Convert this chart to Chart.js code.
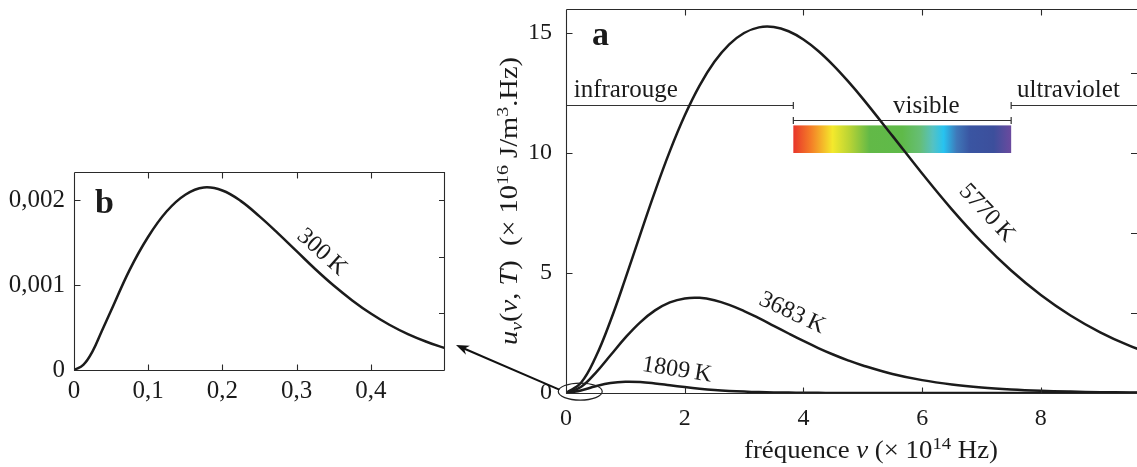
<!DOCTYPE html>
<html>
<head>
<meta charset="utf-8">
<script src="https://cdn.jsdelivr.net/npm/chart.js@4"></script>
<style>
  html, body { margin: 0; padding: 0; background: #ffffff; }
  #wrap { position: relative; width: 1137px; height: 467px; overflow: hidden; background: #fff; }
  #cb { position: absolute; left: 0; top: 0; }
  #ca { position: absolute; left: 452px; top: 0; }
</style>
</head>
<body>
<div id="wrap">
  <canvas id="cb" width="452" height="467"></canvas>
  <canvas id="ca" width="685" height="467"></canvas>
</div>
<script>
// ---------------- data ----------------
// panel a : frequency (x 10^14 Hz)
const nuA = [0, 0.25, 0.5, 0.75, 1, 1.25, 1.5, 1.75, 2, 2.25, 2.5, 2.75, 3, 3.25, 3.5, 3.75,
             4, 4.25, 4.5, 4.75, 5, 5.5, 6, 6.5, 7, 7.5, 8, 8.5, 9, 9.5, 10];
// energy density u (x 10^-16 J/m3.Hz)
const u5770 = [0, 0.418, 1.498, 3.011, 4.764, 6.603, 8.404, 10.078, 11.559, 12.806, 13.798, 14.527,
               15.001, 15.235, 15.250, 15.073, 14.731, 14.252, 13.665, 12.995, 12.266, 10.713, 9.145,
               7.653, 6.296, 5.105, 4.085, 3.231, 2.530, 1.963, 1.510];
const u3683 = [0, 0.251, 0.841, 1.573, 2.306, 2.946, 3.442, 3.773, 3.941, 3.964, 3.865, 3.673,
               3.416, 3.118, 2.800, 2.479, 2.168, 1.874, 1.605, 1.361, 1.146, 0.794, 0.537,
               0.356, 0.232, 0.149, 0.094, 0.059, 0.036, 0.022, 0.014];
const u1809 = [0, 0.103, 0.279, 0.413, 0.468, 0.455, 0.397, 0.322, 0.247, 0.181, 0.127, 0.087,
               0.058, 0.038, 0.025, 0.016, 0.010, 0.006, 0.004, 0.002, 0.001, 0.0005, 0.0002,
               0.0001, 0, 0, 0, 0, 0, 0, 0];
// panel b : 300 K
const nuB = [0, 0.0125, 0.025, 0.0375, 0.05, 0.075, 0.1, 0.125, 0.15, 0.175, 0.2, 0.225, 0.25, 0.275, 0.3,
             0.325, 0.35, 0.375, 0.4, 0.425, 0.45, 0.475, 0.5];
const u300 = [0, 0.000060, 0.000220, 0.000460, 0.000700, 0.001180, 0.001570, 0.001870, 0.002065, 0.002150, 0.002115,
              0.001990, 0.001810, 0.001610, 0.001400, 0.001190, 0.000995, 0.000820, 0.000665,
              0.000533, 0.000423, 0.000333, 0.000258];

const seriesNamesA = ['5770\u2009K', '3683\u2009K', '1809\u2009K'];
const seriesNameB = '300\u2009K';

// ticks
const xTicksA = [0, 2, 4, 6, 8];
const xTickLabelsA = ['0', '2', '4', '6', '8'];
const yTicksA = [0, 5, 10, 15];
const yTickLabelsA = ['0', '5', '10', '15'];
const yTicksRightA = [3.333, 6.667, 10, 13.333];
const xTicksB = [0, 0.1, 0.2, 0.3, 0.4];
const xTickLabelsB = ['0', '0,1', '0,2', '0,3', '0,4'];
const yTicksB = [0, 0.001, 0.002];
const yTickLabelsB = ['0', '0,001', '0,002'];
const yTicksRightB = [0.000667, 0.001333, 0.002];

// spectrum bands (x 10^14 Hz)
const bandNames = ['infrarouge', 'visible', 'ultraviolet'];
const visibleRange = [3.83, 7.5];

// ---------------- helpers ----------------
const SERIF = "'Liberation Serif', 'Times New Roman', serif";
const INK = '#1b1b1b';
const FRAME = '#2a2a2a';
function fnt(size, style, weight) { return (style || 'normal') + ' ' + (weight || 'normal') + ' ' + size + 'px ' + SERIF; }

function drawRich(ctx, segs, x, y, size, align, targetW) {
  const parts = segs.map(s => {
    const sz = (s.sup || s.sub) ? size * 0.7 : size;
    const f = fnt(sz, s.it ? 'italic' : 'normal');
    ctx.font = f;
    return { t: s.t, f: f, w: ctx.measureText(s.t).width, dy: s.sup ? -size * 0.38 : (s.sub ? size * 0.2 : 0) };
  });
  const total = parts.reduce((a, p) => a + p.w, 0);
  const k = targetW ? targetW / total : 1;
  ctx.save();
  ctx.translate(x, y);
  ctx.scale(k, 1);
  let cx = align === 'center' ? -total / 2 : (align === 'right' ? -total : 0);
  ctx.textAlign = 'left';
  ctx.textBaseline = 'alphabetic';
  ctx.fillStyle = INK;
  parts.forEach(p => { ctx.font = p.f; ctx.fillText(p.t, cx, p.dy); cx += p.w; });
  ctx.restore();
}

function rotText(ctx, text, x, y, deg, size, style) {
  ctx.save();
  ctx.translate(x, y);
  ctx.rotate(deg * Math.PI / 180);
  ctx.font = fnt(size, style || 'normal');
  ctx.fillStyle = INK;
  ctx.textAlign = 'center';
  ctx.textBaseline = 'middle';
  ctx.fillText(text, 0, 0);
  ctx.restore();
}

function framePlugin(xt, yt, yr, rightBorder) {
  return {
    id: 'frameTicks',
    afterDraw(chart) {
      const ctx = chart.ctx, a = chart.chartArea, sx = chart.scales.x, sy = chart.scales.y;
      const L = 6;
      ctx.save();
      ctx.strokeStyle = FRAME;
      ctx.lineWidth = 1.1;
      const l = Math.round(a.left) + 0.5, r = Math.round(a.right) - 0.5;
      const t = Math.round(a.top) + 0.5, b = Math.round(a.bottom) + 0.5;
      ctx.beginPath();
      ctx.moveTo(l, t); ctx.lineTo(l, b); ctx.lineTo(rightBorder ? r : a.right, b);
      ctx.moveTo(l, t); ctx.lineTo(rightBorder ? r : a.right, t);
      if (rightBorder) { ctx.lineTo(r, b); }
      xt.forEach(v => {
        if (v === 0) return;
        const p = Math.round(sx.getPixelForValue(v)) + 0.5;
        ctx.moveTo(p, b); ctx.lineTo(p, b - L);
        ctx.moveTo(p, t); ctx.lineTo(p, t + L);
      });
      yt.forEach(v => {
        if (v === 0) return;
        const p = Math.round(sy.getPixelForValue(v)) + 0.5;
        ctx.moveTo(l, p); ctx.lineTo(l + L, p);
      });
      yr.forEach(v => {
        const p = Math.round(sy.getPixelForValue(v)) + 0.5;
        ctx.moveTo(a.right, p); ctx.lineTo(a.right - L, p);
      });
      ctx.stroke();
      ctx.restore();
    }
  };
}

function tickFont(sz) { return { family: SERIF, size: sz }; }
function zeroPad(s) { s.paddingLeft = 0; s.paddingRight = 0; s.paddingTop = 0; s.paddingBottom = 0; }

const lineStyle = {
  borderColor: INK, borderWidth: 2.5, pointRadius: 0, fill: false,
  tension: 0.4, cubicInterpolationMode: 'default'
};

// ---------------- panel b ----------------
const chartB = new Chart(document.getElementById('cb'), {
  type: 'line',
  data: { datasets: [Object.assign({ label: seriesNameB, data: nuB.map((x, i) => ({ x: x, y: u300[i] })) }, lineStyle)] },
  options: {
    responsive: false, animation: false, events: [],
    layout: { padding: { top: 172, right: 7, bottom: 0, left: 0 } },
    plugins: { legend: { display: false }, tooltip: { enabled: false } },
    scales: {
      x: {
        type: 'linear', min: 0, max: 0.5,
        grid: { display: false, drawTicks: false }, border: { display: false },
        ticks: { padding: 6, font: tickFont(25), color: INK, autoSkip: false, maxRotation: 0,
                 callback: (v, i) => xTickLabelsB[i] },
        afterBuildTicks: s => { s.ticks = xTicksB.map(v => ({ value: v })); },
        afterFit: s => { s.height = 97; zeroPad(s); }
      },
      y: {
        type: 'linear', min: 0, max: 0.002333,
        grid: { display: false, drawTicks: false }, border: { display: false },
        ticks: { padding: 9, font: tickFont(25), color: INK, autoSkip: false,
                 callback: (v, i) => yTickLabelsB[i] },
        afterBuildTicks: s => { s.ticks = yTicksB.map(v => ({ value: v })); },
        afterFit: s => { s.width = 74; zeroPad(s); }
      }
    }
  },
  plugins: [
    framePlugin(xTicksB, yTicksB, yTicksRightB, true),
    {
      id: 'labelsB',
      afterDatasetsDraw(chart) {
        const ctx = chart.ctx, sx = chart.scales.x, sy = chart.scales.y;
        rotText(ctx, seriesNameB, sx.getPixelForValue(0.334), sy.getPixelForValue(0.001388), 42, 24);
        ctx.save();
        ctx.font = fnt(34, 'normal', 'bold');
        ctx.fillStyle = INK; ctx.textAlign = 'left'; ctx.textBaseline = 'alphabetic';
        ctx.fillText('b', sx.getPixelForValue(0.0283), sy.getPixelForValue(0.001847));
        ctx.restore();
      }
    }
  ]
});

// ---------------- panel a ----------------
const CA_OFFSET = 452;
const chartA = new Chart(document.getElementById('ca'), {
  type: 'line',
  data: {
    datasets: [
      Object.assign({ label: seriesNamesA[0], data: nuA.map((x, i) => ({ x: x, y: u5770[i] })) }, lineStyle),
      Object.assign({ label: seriesNamesA[1], data: nuA.map((x, i) => ({ x: x, y: u3683[i] })) }, lineStyle),
      Object.assign({ label: seriesNamesA[2], data: nuA.map((x, i) => ({ x: x, y: u1809[i] })) }, lineStyle)
    ]
  },
  options: {
    responsive: false, animation: false, events: [],
    layout: { padding: { top: 9, right: 0, bottom: 0, left: 0 } },
    plugins: { legend: { display: false }, tooltip: { enabled: false } },
    scales: {
      x: {
        type: 'linear', min: 0, max: 9.62,
        grid: { display: false, drawTicks: false }, border: { display: false },
        ticks: { padding: 11, font: tickFont(24), color: INK, autoSkip: false, maxRotation: 0,
                 callback: (v, i) => xTickLabelsA[i] },
        afterBuildTicks: s => { s.ticks = xTicksA.map(v => ({ value: v })); },
        afterFit: s => { s.height = 74; zeroPad(s); }
      },
      y: {
        type: 'linear', min: 0, max: 16,
        grid: { display: false, drawTicks: false }, border: { display: false },
        ticks: { padding: 14, font: tickFont(24), color: INK, autoSkip: false,
                 callback: (v, i) => yTickLabelsA[i] },
        afterBuildTicks: s => { s.ticks = yTicksA.map(v => ({ value: v })); },
        afterFit: s => { s.width = 114; zeroPad(s); }
      }
    }
  },
  plugins: [
    {
      id: 'spectrum',
      beforeDatasetsDraw(chart) {
        const ctx = chart.ctx, a = chart.chartArea, sx = chart.scales.x, sy = chart.scales.y;
        const x0 = sx.getPixelForValue(visibleRange[0]), x1 = sx.getPixelForValue(visibleRange[1]);
        const yTop = sy.getPixelForValue(11.15), yBot = sy.getPixelForValue(10);
        const g = ctx.createLinearGradient(x0, 0, x1, 0);
        [[0, '#e8352b'], [0.08, '#f47d27'], [0.18, '#f4e92c'], [0.26, '#b7d335'], [0.35, '#62b947'],
         [0.5, '#5fba49'], [0.58, '#66be74'], [0.64, '#55c2c2'], [0.69, '#27c3f0'], [0.75, '#3f78b9'],
         [0.81, '#3a55a2'], [0.92, '#3c4f9c'], [1, '#6b4a9e']].forEach(s => g.addColorStop(s[0], s[1]));
        ctx.save();
        ctx.fillStyle = g;
        ctx.fillRect(x0, yTop, x1 - x0, yBot - yTop);
        // band lines
        ctx.strokeStyle = '#333';
        ctx.lineWidth = 1.2;
        const yIR = Math.round(sy.getPixelForValue(12)) + 0.5;
        const yV = Math.round(sy.getPixelForValue(11.38)) + 0.5;
        ctx.beginPath();
        ctx.moveTo(a.left, yIR); ctx.lineTo(x0, yIR);
        ctx.moveTo(x0, yIR - 3.5); ctx.lineTo(x0, yIR + 3.5);
        ctx.moveTo(x1, yIR); ctx.lineTo(a.right, yIR);
        ctx.moveTo(x1, yIR - 3.5); ctx.lineTo(x1, yIR + 3.5);
        ctx.moveTo(x0, yV); ctx.lineTo(x1, yV);
        ctx.moveTo(x0, yV - 3.5); ctx.lineTo(x0, yV + 3.5);
        ctx.moveTo(x1, yV - 3.5); ctx.lineTo(x1, yV + 3.5);
        ctx.stroke();
        // band names
        ctx.fillStyle = INK;
        ctx.font = fnt(25);
        ctx.textBaseline = 'alphabetic';
        ctx.textAlign = 'left';
        ctx.fillText(bandNames[0], sx.getPixelForValue(0.13), sy.getPixelForValue(12.33));
        ctx.fillText(bandNames[2], sx.getPixelForValue(7.6), sy.getPixelForValue(12.33));
        ctx.textAlign = 'center';
        ctx.fillText(bandNames[1], sx.getPixelForValue(6.07), sy.getPixelForValue(11.67));
        // panel letter
        ctx.font = fnt(34, 'normal', 'bold');
        ctx.textAlign = 'left';
        ctx.fillText('a', sx.getPixelForValue(0.44), sy.getPixelForValue(14.5));
        ctx.restore();
      },
      afterDatasetsDraw(chart) {
        const ctx = chart.ctx, a = chart.chartArea, sx = chart.scales.x, sy = chart.scales.y;
        // curve labels
        rotText(ctx, seriesNamesA[0], sx.getPixelForValue(7.09), sy.getPixelForValue(7.5), 47, 24);
        rotText(ctx, seriesNamesA[1], sx.getPixelForValue(3.81), sy.getPixelForValue(3.33), 25, 24);
        rotText(ctx, seriesNamesA[2], sx.getPixelForValue(1.87), sy.getPixelForValue(0.96), 9, 24);
        // ellipse round the origin
        const cx = sx.getPixelForValue(0.24), cy = sy.getPixelForValue(0.06);
        const rx = sx.getPixelForValue(0.24 + 0.37) - cx, ry = cy - sy.getPixelForValue(0.06 + 0.355);
        ctx.save();
        ctx.strokeStyle = '#222';
        ctx.lineWidth = 1.2;
        ctx.beginPath();
        ctx.ellipse(cx, cy, rx, ry, 0, 0, Math.PI * 2);
        ctx.stroke();
        // arrow to panel b
        const bx = chartB.scales.x, by = chartB.scales.y;
        const tip = { x: bx.getPixelForValue(0.5) + 11 - CA_OFFSET, y: by.getPixelForValue(u300[u300.length - 1]) - 3 };
        const tail = { x: cx - rx + 1, y: cy - 2 };
        const dx = tip.x - tail.x, dy = tip.y - tail.y, len = Math.hypot(dx, dy);
        const ux = dx / len, uy = dy / len, nx = -uy, ny = ux;
        ctx.strokeStyle = '#111';
        ctx.fillStyle = '#111';
        ctx.lineWidth = 2;
        ctx.beginPath();
        ctx.moveTo(tail.x, tail.y);
        ctx.lineTo(tip.x - ux * 8, tip.y - uy * 8);
        ctx.stroke();
        ctx.beginPath();
        ctx.moveTo(tip.x, tip.y);
        ctx.lineTo(tip.x - ux * 13 + nx * 5, tip.y - uy * 13 + ny * 5);
        ctx.lineTo(tip.x - ux * 9, tip.y - uy * 9);
        ctx.lineTo(tip.x - ux * 13 - nx * 5, tip.y - uy * 13 - ny * 5);
        ctx.closePath();
        ctx.fill();
        ctx.restore();
        // axis titles
        drawRich(ctx, [
          { t: 'fréquence ' }, { t: 'ν', it: 1 }, { t: ' (× 10' }, { t: '14', sup: 1 }, { t: ' Hz)' }
        ], 871 - CA_OFFSET, 458, 25, 'center', 254);
        ctx.save();
        ctx.translate(517 - CA_OFFSET, (a.top + a.bottom) / 2);
        ctx.rotate(-Math.PI / 2);
        drawRich(ctx, [
          { t: 'u', it: 1 }, { t: 'ν', it: 1, sub: 1 }, { t: '(' }, { t: 'ν', it: 1 }, { t: ', ' },
          { t: 'T', it: 1 }, { t: ')  (× 10' }, { t: '16', sup: 1 }, { t: ' J/m' }, { t: '3', sup: 1 }, { t: '.Hz)' }
        ], 0, 0, 25, 'center', 288);
        ctx.restore();
      }
    },
    framePlugin(xTicksA, yTicksA, yTicksRightA, false)
  ]
});
</script>
</body>
</html>
